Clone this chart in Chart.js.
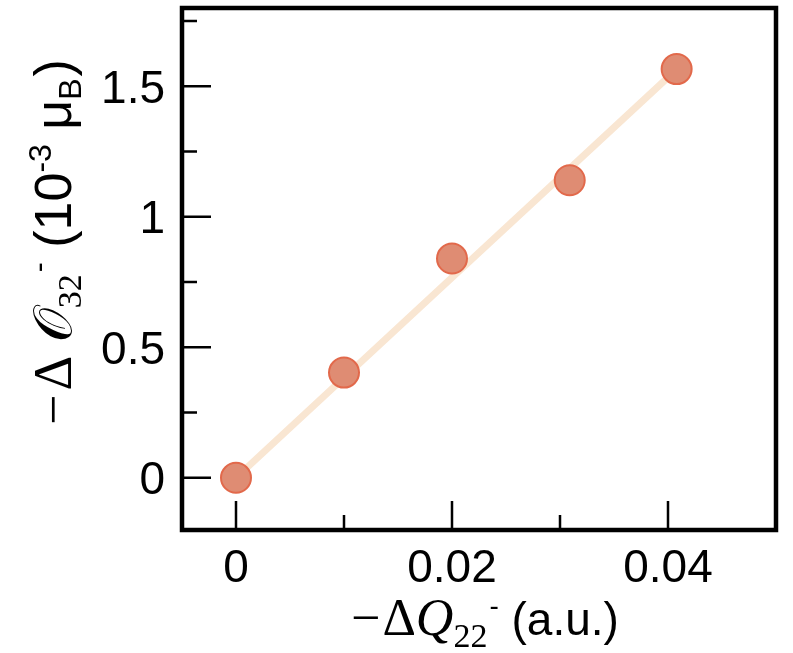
<!DOCTYPE html>
<html>
<head>
<meta charset="utf-8">
<script src="https://cdn.jsdelivr.net/npm/chart.js@4"></script>
<style>
  html, body { margin: 0; padding: 0; background: #fff; }
  #wrap { width: 793px; height: 653px; }
</style>
</head>
<body>
<div id="wrap"><canvas id="c" width="793" height="653"></canvas></div>
<script>
// Measured points: -ΔQ22 (a.u.) vs -ΔO32 (10^-3 μB)
const xValues = [0, 0.01, 0.02, 0.0309, 0.0408];
const yValues = [0, 0.403, 0.84, 1.14, 1.566];
// Linear fit through the points
const fitX = [0, 0.0408];
const fitY = [0, 1.565];
// Axis ticks and their labels
const xMajorTicks = [0, 0.02, 0.04];
const xTickLabels = ['0', '0.02', '0.04'];
const xMinorTicks = [0.01, 0.03];
const yMajorTicks = [0, 0.5, 1, 1.5];
const yTickLabels = ['0', '0.5', '1', '1.5'];
const yMinorTicks = [0.25, 0.75, 1.25, 1.75];

const pointData = xValues.map((x, i) => ({ x: x, y: yValues[i] }));
const fitData = fitX.map((x, i) => ({ x: x, y: fitY[i] }));

const LABEL_FONT = "'Liberation Sans', Arial, sans-serif";
const MATH_FONT = "'Liberation Serif', 'DejaVu Serif', serif";
const TICK_SIZE = 46;

// Draws a run of differently styled text pieces, centred on the origin
function drawRich(ctx, parts) {
  let total = 0;
  parts.forEach(p => { ctx.font = p.font; p.w = ctx.measureText(p.t).width + (p.gap || 0); total += p.w; });
  let x = -total / 2;
  parts.forEach(p => {
    ctx.font = p.font;
    ctx.fillText(p.t, x, p.dy || 0);
    x += p.w;
  });
}

const framePlugin = {
  id: 'frame',
  afterDraw(chart) {
    const ctx = chart.ctx;
    const a = chart.chartArea;
    const xs = chart.scales.x, ys = chart.scales.y;
    ctx.save();
    ctx.strokeStyle = '#000';
    ctx.lineCap = 'butt';
    // inward tick marks
    ctx.lineWidth = 2.5;
    ctx.beginPath();
    xMajorTicks.forEach(v => { const px = xs.getPixelForValue(v); ctx.moveTo(px, a.bottom); ctx.lineTo(px, a.bottom - 29); });
    xMinorTicks.forEach(v => { const px = xs.getPixelForValue(v); ctx.moveTo(px, a.bottom); ctx.lineTo(px, a.bottom - 15); });
    yMajorTicks.forEach(v => { const py = ys.getPixelForValue(v); ctx.moveTo(a.left, py); ctx.lineTo(a.left + 29, py); });
    yMinorTicks.forEach(v => { const py = ys.getPixelForValue(v); ctx.moveTo(a.left, py); ctx.lineTo(a.left + 15, py); });
    ctx.stroke();
    // box
    ctx.lineWidth = 4.5;
    ctx.strokeRect(a.left, a.top, a.right - a.left, a.bottom - a.top);

    // tick labels
    ctx.fillStyle = '#000';
    ctx.font = TICK_SIZE + 'px ' + LABEL_FONT;
    ctx.textBaseline = 'alphabetic';
    ctx.textAlign = 'center';
    xMajorTicks.forEach((v, i) => {
      ctx.fillText(xTickLabels[i], xs.getPixelForValue(v), a.bottom + 52);
    });
    ctx.textAlign = 'right';
    yMajorTicks.forEach((v, i) => {
      ctx.fillText(yTickLabels[i], a.left - 17, ys.getPixelForValue(v) + 0.358 * TICK_SIZE);
    });

    // axis titles
    ctx.textAlign = 'left';
    ctx.save();
    ctx.translate(485, 635);
    drawRich(ctx, [
      { t: '\u2212', font: '52px ' + MATH_FONT, gap: 2 },
      { t: '\u0394', font: '52px ' + MATH_FONT },
      { t: 'Q', font: 'italic 52px ' + MATH_FONT },
      { t: '22', font: '34px ' + MATH_FONT, dy: 12, gap: 2 },
      { t: '-', font: '28px ' + LABEL_FONT, dy: -20 },
      { t: ' (a.u.)', font: '46px ' + LABEL_FONT }
    ]);
    ctx.restore();
    ctx.save();
    ctx.translate(71, 242);
    ctx.rotate(-Math.PI / 2);
    drawRich(ctx, [
      { t: '\u2212', font: '54px ' + MATH_FONT, gap: 4 },
      { t: '\u0394 ', font: '54px ' + MATH_FONT },
      { t: '\uD835\uDCAA', font: '54px ' + MATH_FONT },
      { t: '32', font: '34px ' + MATH_FONT, dy: 10, gap: 2 },
      { t: '-', font: '30px ' + LABEL_FONT, dy: -22 },
      { t: ' (10', font: '52px ' + LABEL_FONT },
      { t: '-3', font: '32px ' + LABEL_FONT, dy: -20 },
      { t: ' \u03BC', font: '52px ' + LABEL_FONT },
      { t: 'B', font: '32px ' + LABEL_FONT, dy: 10, gap: 2 },
      { t: ')', font: '52px ' + LABEL_FONT }
    ]);
    ctx.restore();
    ctx.restore();
  }
};

new Chart(document.getElementById('c'), {
  type: 'scatter',
  data: {
    datasets: [
      {
        type: 'line',
        data: fitData,
        borderColor: '#F9E6D2',
        borderWidth: 7,
        pointRadius: 0,
        fill: false,
        order: 2
      },
      {
        data: pointData,
        backgroundColor: '#DF8C73',
        borderColor: '#E2694B',
        borderWidth: 2,
        pointRadius: 15,
        order: 1
      }
    ]
  },
  options: {
    responsive: false,
    animation: false,
    layout: { autoPadding: false, padding: { left: 0, top: 8, right: 17, bottom: 0 } },
    plugins: { legend: { display: false }, tooltip: { enabled: false } },
    scales: {
      x: {
        type: 'linear',
        min: -0.005,
        max: 0.05,
        grid: { display: false, drawTicks: false },
        border: { display: false },
        ticks: { display: false },
        afterFit(s) { s.height = 123; }
      },
      y: {
        type: 'linear',
        min: -0.2,
        max: 1.8,
        grid: { display: false, drawTicks: false },
        border: { display: false },
        ticks: { display: false },
        afterFit(s) { s.width = 182; }
      }
    }
  },
  plugins: [framePlugin]
});
</script>
</body>
</html>
